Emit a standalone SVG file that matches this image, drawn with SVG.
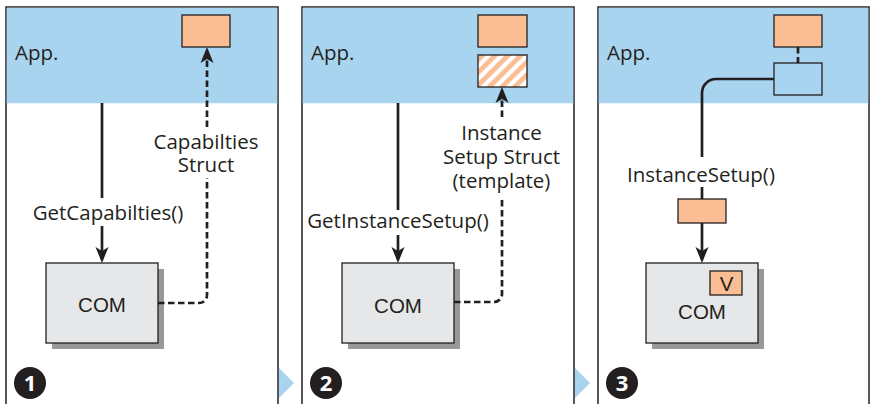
<svg xmlns="http://www.w3.org/2000/svg" width="871" height="404" viewBox="0 0 871 404">
  <style>
    .panel { fill: #ffffff; stroke: #231f20; stroke-width: 1.5; }
    .band { fill: #a9d4ef; }
    .step { fill: #a9d4ef; }
    .app { font-family: "Open Sans", "Noto Sans", sans-serif; font-size: 20.5px; fill: #231f20; }
    .label { font-family: "Open Sans", "Noto Sans", sans-serif; font-size: 20.5px; fill: #231f20; text-anchor: middle; }
    .com { font-family: "Liberation Sans", Arial, sans-serif; font-size: 20.5px; fill: #231f20; text-anchor: middle; }
    .struct { fill: #fbbe94; stroke: #231f20; stroke-width: 1.3; }
    .hatched { fill: url(#stripes); stroke: #231f20; stroke-width: 1.3; }
    .outline { fill: #a9d4ef; stroke: #231f20; stroke-width: 1.3; }
    .box { fill: #e6e7e8; stroke: #231f20; stroke-width: 1.3; }
    .shadow { fill: #98989b; }
    .badge { fill: #231f20; }
    .badge-num { font-family: "Open Sans", "Noto Sans", sans-serif; font-size: 22px; font-weight: 700; fill: #ffffff; text-anchor: middle; }
    .solid { fill: none; stroke: #231f20; stroke-width: 2.7; }
    .dashed { fill: none; stroke: #231f20; stroke-width: 2.7; stroke-dasharray: 6.5 3.5; }
  </style>
  <defs>
    <marker id="head" viewBox="-16 -7 16 14" markerWidth="16" markerHeight="14" refX="-4" refY="0" orient="auto" markerUnits="userSpaceOnUse">
      <path d="M0,0 L-16,-6.5 L-12,0 L-16,6.5 Z" fill="#231f20"/>
    </marker>
    <pattern id="stripes" width="9" height="9" patternUnits="userSpaceOnUse" patternTransform="rotate(45)">
      <rect x="0" y="0" width="9" height="9" fill="#ffffff"/>
      <rect x="0" y="0" width="4.8" height="9" fill="#fbbe94"/>
    </pattern>
  </defs>

  <!-- step arrows between panels -->
  <polygon class="step" points="279,368 294,383 279,398"/>
  <polygon class="step" points="575,368 590,383 575,398"/>

  <!-- panel 1 -->
  <g id="panel-1">
    <rect class="panel" x="6" y="7" width="272" height="400"/>
    <rect class="band" x="6.75" y="7.75" width="270.5" height="95.5"/>
    <text class="app" x="15" y="60">App.</text>
    <circle class="badge" cx="30" cy="383" r="16"/>
    <text class="badge-num" x="30" y="391">1</text>
  </g>
  <g id="capabilities-struct">
    <rect class="struct" x="182" y="15" width="48" height="32"/>
  </g>
  <g id="com-1">
    <rect class="shadow" x="52" y="269" width="112" height="80"/>
    <rect class="box" x="46" y="263" width="112" height="80"/>
    <text class="com" x="102" y="312">COM</text>
  </g>

  <!-- panel 2 -->
  <g id="panel-2">
    <rect class="panel" x="302" y="7" width="272" height="400"/>
    <rect class="band" x="302.75" y="7.75" width="270.5" height="95.5"/>
    <text class="app" x="311" y="60">App.</text>
    <circle class="badge" cx="326" cy="383" r="16"/>
    <text class="badge-num" x="326" y="391">2</text>
  </g>
  <g id="instance-struct">
    <rect class="struct" x="478" y="15" width="49" height="32"/>
  </g>
  <g id="instance-template">
    <rect class="hatched" x="478" y="55" width="49" height="32"/>
  </g>
  <g id="com-2">
    <rect class="shadow" x="348" y="269" width="112" height="80"/>
    <rect class="box" x="342" y="263" width="112" height="80"/>
    <text class="com" x="398" y="313">COM</text>
  </g>

  <!-- panel 3 -->
  <g id="panel-3">
    <rect class="panel" x="598" y="7" width="271" height="400"/>
    <rect class="band" x="598.75" y="7.75" width="269.5" height="95.5"/>
    <text class="app" x="607" y="60">App.</text>
    <circle class="badge" cx="622" cy="383" r="16"/>
    <text class="badge-num" x="622" y="391">3</text>
  </g>
  <g id="setup-struct">
    <rect class="struct" x="774" y="15" width="48" height="32"/>
  </g>
  <g id="setup-slot">
    <rect class="outline" x="774" y="63" width="48" height="32"/>
  </g>
  <g id="setup-packet">
    <rect class="struct" x="678" y="199" width="48" height="24"/>
  </g>
  <g id="com-3">
    <rect class="shadow" x="652" y="269" width="112" height="80"/>
    <rect class="box" x="646" y="263" width="112" height="80"/>
    <rect class="struct" x="710" y="271" width="32" height="24"/>
    <text class="com" x="726.5" y="291">V</text>
    <text class="com" x="702" y="319">COM</text>
  </g>

  <!-- connectors and their labels -->
  <g id="connectors">
    <!-- panel 1 -->
    <path class="solid" d="M102,103 V198"/>
    <path class="solid" d="M102,226 V259" marker-end="url(#head)"/>
    <text class="label" x="108" y="220">GetCapabilties()</text>
    <path class="dashed" d="M158,303 H199 A8,8 0 0 0 207,295 V178"/>
    <path class="dashed" d="M207,127 V51" marker-end="url(#head)"/>
    <text class="label" x="206" y="149">Capabilties</text>
    <text class="label" x="206" y="172">Struct</text>

    <!-- panel 2 -->
    <path class="solid" d="M398,103 V210"/>
    <path class="solid" d="M398,235 V259" marker-end="url(#head)"/>
    <text class="label" x="398" y="228">GetInstanceSetup()</text>
    <path class="dashed" d="M454,302 H494 A8,8 0 0 0 502,294 V198"/>
    <path class="dashed" d="M502,117 V91" marker-end="url(#head)"/>
    <text class="label" x="501.5" y="140">Instance</text>
    <text class="label" x="501.5" y="164">Setup Struct</text>
    <text class="label" x="501.5" y="188">(template)</text>

    <!-- panel 3 -->
    <path class="dashed" d="M798,47 V63"/>
    <path class="solid" d="M774,79 H716 A14,14 0 0 0 702,93 V157"/>
    <path class="solid" d="M702,187 V199"/>
    <path class="solid" d="M702,223 V259" marker-end="url(#head)"/>
    <text class="label" x="701" y="182">InstanceSetup()</text>
  </g>
</svg>
